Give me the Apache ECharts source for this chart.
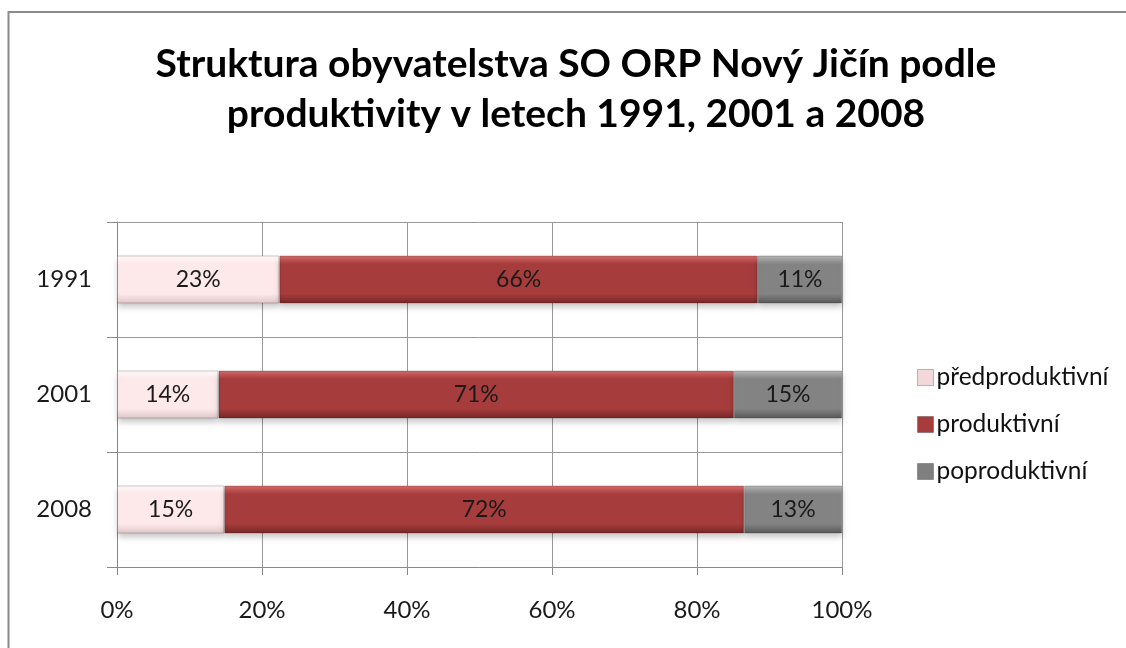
<!DOCTYPE html>
<html>
<head>
<meta charset="utf-8">
<script src="https://cdn.jsdelivr.net/npm/echarts@6/dist/echarts.min.js"></script>
<style>html,body{margin:0;padding:0;background:#fff}#c{width:1126px;height:648px}</style>
</head>
<body>
<div id="c"></div>
<script>
const categories = ['1991', '2001', '2008'];
const seriesNames = ['předproduktivní', 'produktivní', 'poproduktivní'];
// bar lengths (share of total, %)
const preValues = [22.4, 14.0, 14.8];
const prodValues = [66.0, 71.1, 71.7];
const postValues = [11.6, 14.9, 13.5];
// data label texts shown on the bars
const preLabels = ['23%', '14%', '15%'];
const prodLabels = ['66%', '71%', '72%'];
const postLabels = ['11%', '15%', '13%'];
const xTicks = ['0%', '20%', '40%', '60%', '80%', '100%'];

const FONT = 'Lato';
const chart = echarts.init(document.getElementById('c'));

function bevel(top, base, bottom) {
  return new echarts.graphic.LinearGradient(0, 0, 0, 1, [
    {offset: 0, color: top},
    {offset: 0.18, color: base},
    {offset: 0.8, color: base},
    {offset: 1, color: bottom}
  ]);
}
const styles = [
  {color: bevel('#fffafa', '#fde9ea', '#dfc6c7'), legend: '#f2d8d9'},
  {color: bevel('#d66c6c', '#a63c3c', '#772626'), legend: '#a63c3c'},
  {color: bevel('#b8b8b8', '#838383', '#575757'), legend: '#7f7f7f'}
];
const valuesList = [preValues, prodValues, postValues];
const labelsList = [preLabels, prodLabels, postLabels];

const series = seriesNames.map((name, i) => ({
  name: name,
  type: 'bar',
  stack: 'total',
  barWidth: 48,
  data: categories.map((c, j) => ({value: valuesList[i][j], labelText: labelsList[i][j]})).reverse(),
  itemStyle: {
    color: styles[i].color,
    borderColor: 'rgba(0,0,0,0.2)',
    borderWidth: 1,
    shadowColor: 'rgba(0,0,0,0.22)',
    shadowBlur: 6,
    shadowOffsetY: 4
  },
  label: {
    show: true,
    position: 'inside',
    formatter: p => p.data.labelText,
    color: '#1a1a1a',
    fontFamily: FONT,
    fontSize: 23
  }
}));

chart.setOption({
  animation: false,
  backgroundColor: '#fff',
  title: {
    text: 'Struktura obyvatelstva SO ORP Nový Jičín podle\nproduktivity v letech 1991, 2001 a 2008',
    left: 571,
    textAlign: 'center',
    top: 34,
    textStyle: {fontFamily: FONT, fontWeight: 'bold', fontSize: 39, lineHeight: 50, color: '#000'}
  },
  legend: {
    orient: 'vertical',
    left: 912,
    top: 360,
    itemWidth: 16,
    itemHeight: 16,
    itemGap: 22,
    icon: 'rect',
    data: seriesNames.map((n, i) => ({name: n, itemStyle: {color: styles[i].legend, borderColor: 'rgba(0,0,0,0.25)', borderWidth: 1}})),
    textStyle: {fontFamily: FONT, fontSize: 24.5, lineHeight: 25, color: '#111', padding: [0, 0, 0, -2]}
  },
  grid: {left: 117, top: 222, width: 725, height: 345},
  xAxis: {
    type: 'value',
    min: 0,
    max: 100,
    interval: 20,
    axisLine: {show: true, lineStyle: {color: '#888'}},
    axisTick: {show: true, length: 8, lineStyle: {color: '#888'}},
    splitLine: {show: true, lineStyle: {color: '#999'}},
    axisLabel: {formatter: v => xTicks[v / 20], fontFamily: FONT, fontSize: 24, color: '#1a1a1a', margin: 31}
  },
  yAxis: {
    type: 'category',
    data: categories.slice().reverse(),
    axisLine: {show: true, lineStyle: {color: '#888'}},
    axisTick: {show: true, length: 10, lineStyle: {color: '#888'}},
    splitLine: {show: true, lineStyle: {color: '#999'}},
    axisLabel: {fontFamily: FONT, fontSize: 24, color: '#1a1a1a', margin: 25}
  },
  graphic: [{
    type: 'rect',
    shape: {x: 8.5, y: 12, width: 1300, height: 800},
    style: {fill: 'none', stroke: '#8a8a8a', lineWidth: 2},
    silent: true
  }],
  series: series
});
</script>
</body>
</html>
